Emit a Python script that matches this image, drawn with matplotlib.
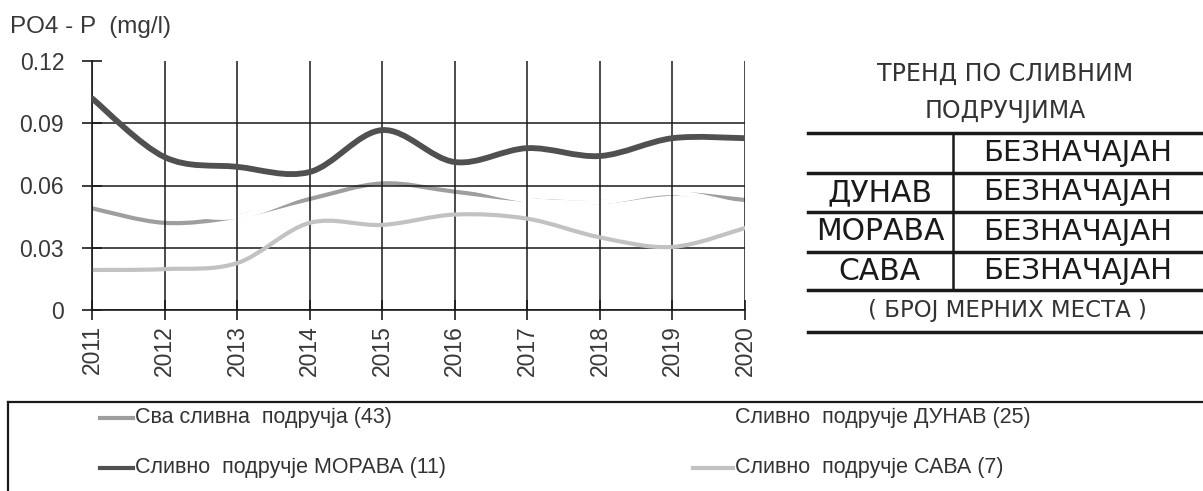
import numpy as np
import matplotlib.pyplot as plt
from matplotlib.path import Path
from matplotlib.patches import PathPatch
from matplotlib.lines import Line2D

# values (PO4-P, mg/l)
years = [2011, 2012, 2013, 2014, 2015, 2016, 2017, 2018, 2019, 2020]
all_basins = [0.049, 0.042, 0.045, 0.0535, 0.061, 0.057, 0.053, 0.052, 0.056, 0.053]
dunav = [0.056, 0.048, 0.045, 0.056, 0.064, 0.060, 0.053, 0.052, 0.0565, 0.050]
morava = [0.102, 0.0737, 0.069, 0.0665, 0.0867, 0.0713, 0.078, 0.0742, 0.0828, 0.0828]
sava = [0.0193, 0.0197, 0.0226, 0.042, 0.041, 0.046, 0.044, 0.035, 0.0304, 0.0395]

y_ticks = [0, 0.03, 0.06, 0.09, 0.12]
y_labels = ['0', '0.03', '0.06', '0.09', '0.12']

legend_labels = ['Сва сливна  подручја (43)', 'Сливно  подручје ДУНАВ (25)',
                 'Сливно  подручје МОРАВА (11)', 'Сливно  подручје САВА (7)']

trend_title = ['ТРЕНД ПО СЛИВНИМ', 'ПОДРУЧЈИМА']
trend_rows = ['', 'ДУНАВ', 'МОРАВА', 'САВА']
trend_vals = ['БЕЗНАЧАЈАН', 'БЕЗНАЧАЈАН', 'БЕЗНАЧАЈАН', 'БЕЗНАЧАЈАН']
trend_note = '( БРОЈ МЕРНИХ МЕСТА )'

W, H = 1203, 491
plt.rcParams['font.family'] = ['Liberation Sans', 'DejaVu Sans']


def fx(x):
    return x / W


def fy(y):
    return 1 - y / H


def smooth_path(x, y):
    # smoothed line like the spreadsheet: bezier segments through the points
    x = np.asarray(x, float)
    y = np.asarray(y, float)
    n = len(x)
    verts = [(x[0], y[0])]
    codes = [Path.MOVETO]
    for i in range(n - 1):
        i0 = max(i - 1, 0)
        i3 = min(i + 2, n - 1)
        c1 = (x[i] + (x[i + 1] - x[i0]) / 6, y[i] + (y[i + 1] - y[i0]) / 6)
        c2 = (x[i + 1] - (x[i3] - x[i]) / 6, y[i + 1] - (y[i3] - y[i]) / 6)
        verts += [c1, c2, (x[i + 1], y[i + 1])]
        codes += [Path.CURVE4] * 3
    return Path(verts, codes)


fig = plt.figure(figsize=(W / 100, H / 100), dpi=100)
ax = fig.add_axes([fx(92), fy(310), (745 - 92) / W, (310 - 61) / H])

# (values, colour, width, zorder); the Danube line is white in the original
styles = [
    (all_basins, '#9e9e9e', 3.0, 1.0),
    (dunav, '#ffffff', 3.6, 1.2),
    (sava, '#c2c2c2', 3.0, 2.0),
    (morava, '#505050', 4.2, 3.0),
]
for vals, col, lw, z in styles:
    ax.add_patch(PathPatch(smooth_path(years, vals), fill=False, edgecolor=col,
                           lw=lw, capstyle='round', joinstyle='round', zorder=z))

ax.set_xlim(2011, 2020)
ax.set_ylim(0, 0.12)
ax.set_xticks(years)
ax.set_xticklabels([str(y) for y in years], rotation=90, fontsize=16.5)
ax.set_yticks(y_ticks)
ax.set_yticklabels(y_labels, fontsize=16.5)
ax.tick_params(axis='both', direction='inout', length=14, width=1.2,
               colors='#1a1a1a', labelcolor='#383838')
ax.tick_params(axis='y', pad=13)
ax.tick_params(axis='x', pad=4)
ax.grid(True, color='#1a1a1a', lw=1.1)
ax.set_axisbelow('line')
ax.get_ygridlines()[-1].set_visible(False)
for side in ['top', 'right']:
    ax.spines[side].set_visible(False)
for side in ['left', 'bottom']:
    ax.spines[side].set_color('#1a1a1a')
    ax.spines[side].set_linewidth(1.2)

fig.text(fx(10), fy(27), 'PO4 - P  (mg/l)', fontsize=17.5, color='#383838',
         va='center', ha='left')

# trend table on the right
for i, t in enumerate(trend_title):
    fig.text(fx(1005), fy(74 + 37 * i), t, fontsize=17, color='#333333',
             family='DejaVu Sans', ha='center', va='center')
row_lines = [133, 173, 212, 252, 290, 332]
for yl in row_lines:
    fig.add_artist(Line2D([fx(808), fx(1203)], [fy(yl), fy(yl)],
                          transform=fig.transFigure, color='#1a1a1a', lw=2.5))
fig.add_artist(Line2D([fx(953), fx(953)], [fy(133), fy(290)],
                      transform=fig.transFigure, color='#1a1a1a', lw=1.8))
for i, (r, v) in enumerate(zip(trend_rows, trend_vals)):
    yc = (row_lines[i] + row_lines[i + 1]) / 2
    fig.text(fx(880), fy(yc), r, fontsize=21.5, color='#1a1a1a',
             family='DejaVu Sans', ha='center', va='center')
    fig.text(fx(1078), fy(yc), v, fontsize=21, color='#1a1a1a',
             family='DejaVu Sans', ha='center', va='center')
fig.text(fx(1007), fy(311), trend_note, fontsize=16.5, color='#333333',
         family='DejaVu Sans', ha='center', va='center')

# legend box at the bottom
fig.add_artist(Line2D([fx(8), fx(1203)], [fy(402), fy(402)],
                      transform=fig.transFigure, color='#1a1a1a', lw=1.6))
fig.add_artist(Line2D([fx(8), fx(8)], [fy(402), fy(491)],
                      transform=fig.transFigure, color='#1a1a1a', lw=1.6))
leg_cols = ['#9e9e9e', '#ffffff', '#505050', '#c2c2c2']
leg_pos = [(100, 133, 418), (693, 733, 418), (100, 133, 468), (693, 733, 468)]
for lab, col, (x0, x1, yl) in zip(legend_labels, leg_cols, leg_pos):
    fig.add_artist(Line2D([fx(x0), fx(x1)], [fy(yl), fy(yl)],
                          transform=fig.transFigure, color=col, lw=3))
    fig.text(fx(x1 + 2), fy(yl), lab, fontsize=15.5, color='#333333',
             ha='left', va='center')

fig.savefig('out.png', dpi=100)
